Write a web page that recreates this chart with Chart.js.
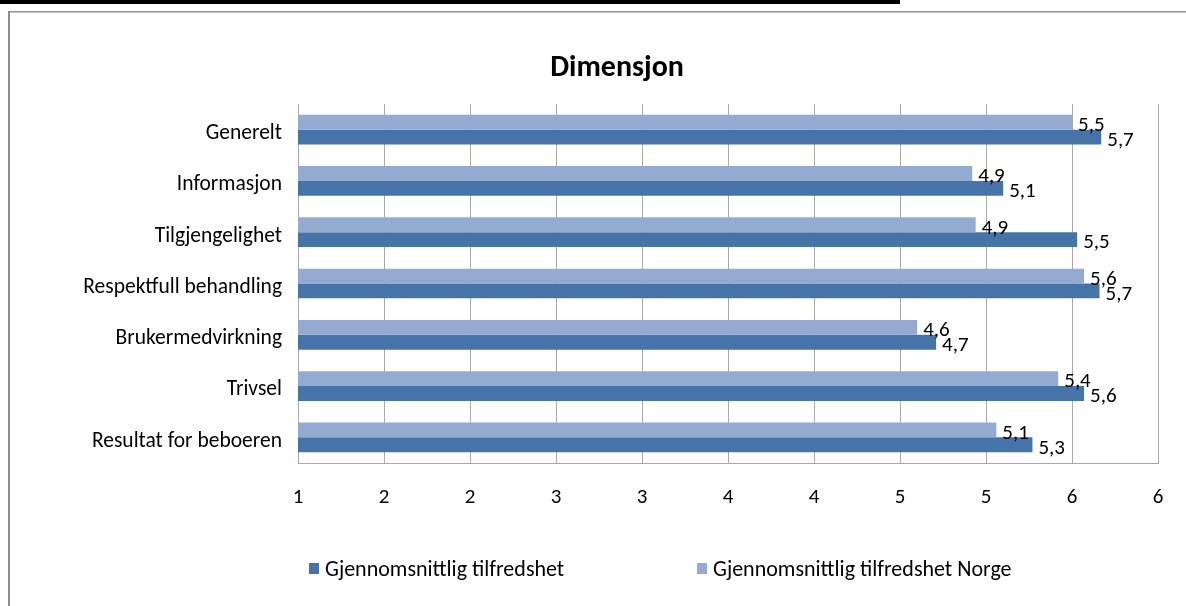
<!DOCTYPE html>
<html><head><meta charset="utf-8">
<script src="https://cdn.jsdelivr.net/npm/chart.js@4/dist/chart.umd.min.js"></script>
<style>html,body{margin:0;padding:0;background:#fff;overflow:hidden}</style>
</head><body><canvas id="c" width="1186" height="606"></canvas>
<script>
const categories = ['Generelt','Informasjon','Tilgjengelighet','Respektfull behandling','Brukermedvirkning','Trivsel','Resultat for beboeren'];
const lokalValues = [5.67, 5.10, 5.53, 5.66, 4.71, 5.57, 5.27];
const norgeValues = [5.50, 4.92, 4.94, 5.57, 4.60, 5.42, 5.06];
const seriesNames = ['Gjennomsnittlig tilfredshet', 'Gjennomsnittlig tilfredshet Norge'];
const xTickLabels = ['1','2','2','3','3','4','4','5','5','6','6'];
const titleText = 'Dimensjon';

const FONT = 'Carlito, Lato, sans-serif';
const DARK = '#4674A8';
const LIGHT = '#95AAD0';
const GRID = '#A8A8A8';

const framePlugin = {
  id: 'frame',
  beforeDraw(chart) {
    const ctx = chart.ctx;
    ctx.save();
    ctx.fillStyle = '#fff';
    ctx.fillRect(0, 0, chart.width, chart.height);
    ctx.fillStyle = '#000';
    ctx.fillRect(0, 0, 900, 4);
    ctx.fillStyle = '#8f8f8f';
    ctx.fillRect(8, 11, chart.width - 8, 1.5);
    ctx.fillRect(8, 11, 2, chart.height - 11);
    ctx.restore();
  }
};

const labelPlugin = {
  id: 'valueLabels',
  afterDatasetsDraw(chart) {
    const ctx = chart.ctx;
    ctx.save();
    ctx.font = '21px ' + FONT;
    ctx.fillStyle = '#000';
    ctx.textAlign = 'left';
    ctx.textBaseline = 'middle';
    chart.data.datasets.forEach((ds, di) => {
      chart.getDatasetMeta(di).data.forEach((bar, i) => {
        ctx.fillText(ds.data[i].toFixed(1).replace('.', ','), bar.x + 6, bar.y + 3.5);
      });
    });
    ctx.restore();
  }
};

const titleLegendPlugin = {
  id: 'titleLegend',
  afterDraw(chart) {
    const ctx = chart.ctx;
    ctx.save();
    ctx.fillStyle = '#000';
    ctx.font = 'bold 30px ' + FONT;
    ctx.textAlign = 'center';
    ctx.textBaseline = 'middle';
    ctx.fillText(titleText, 617, 68);
    // legend (series order as in original legend)
    const order = [1, 0];
    const xs = [309, 697];
    ctx.font = '22px ' + FONT;
    ctx.textAlign = 'left';
    order.forEach((di, k) => {
      const ds = chart.data.datasets[di];
      ctx.fillStyle = ds.backgroundColor;
      ctx.fillRect(xs[k], 563, 10, 11);
      ctx.fillStyle = '#000';
      ctx.fillText(ds.label, xs[k] + 16, 570);
    });
    ctx.restore();
  }
};

new Chart(document.getElementById('c'), {
  type: 'bar',
  data: {
    labels: categories,
    datasets: [
      { label: seriesNames[1], data: norgeValues, backgroundColor: LIGHT, borderWidth: 0 },
      { label: seriesNames[0], data: lokalValues, backgroundColor: DARK, borderWidth: 0 }
    ]
  },
  options: {
    indexAxis: 'y',
    responsive: false,
    animation: false,
    devicePixelRatio: 1,
    categoryPercentage: 0.58,
    barPercentage: 1.0,
    layout: { padding: { top: 104, right: 28, bottom: 83, left: 0 } },
    plugins: { legend: { display: false }, title: { display: false }, tooltip: { enabled: false } },
    scales: {
      x: {
        type: 'linear', min: 1, max: 6,
        ticks: { stepSize: 0.5, color: '#000', font: { family: FONT, size: 21 }, padding: 22,
                 callback: (v, i) => xTickLabels[i] },
        grid: { color: GRID, lineWidth: 1, drawTicks: false },
        border: { color: GRID, width: 1 },
        afterFit(scale) { scale.height = 60; }
      },
      y: {
        type: 'category',
        ticks: { color: '#000', font: { family: FONT, size: 21.5 }, padding: 16, labelOffset: 4 },
        grid: { display: false, drawTicks: false },
        border: { color: GRID, width: 1 },
        afterFit(scale) { scale.width = 298; }
      }
    }
  },
  plugins: [framePlugin, labelPlugin, titleLegendPlugin]
});
</script>
</body></html>
